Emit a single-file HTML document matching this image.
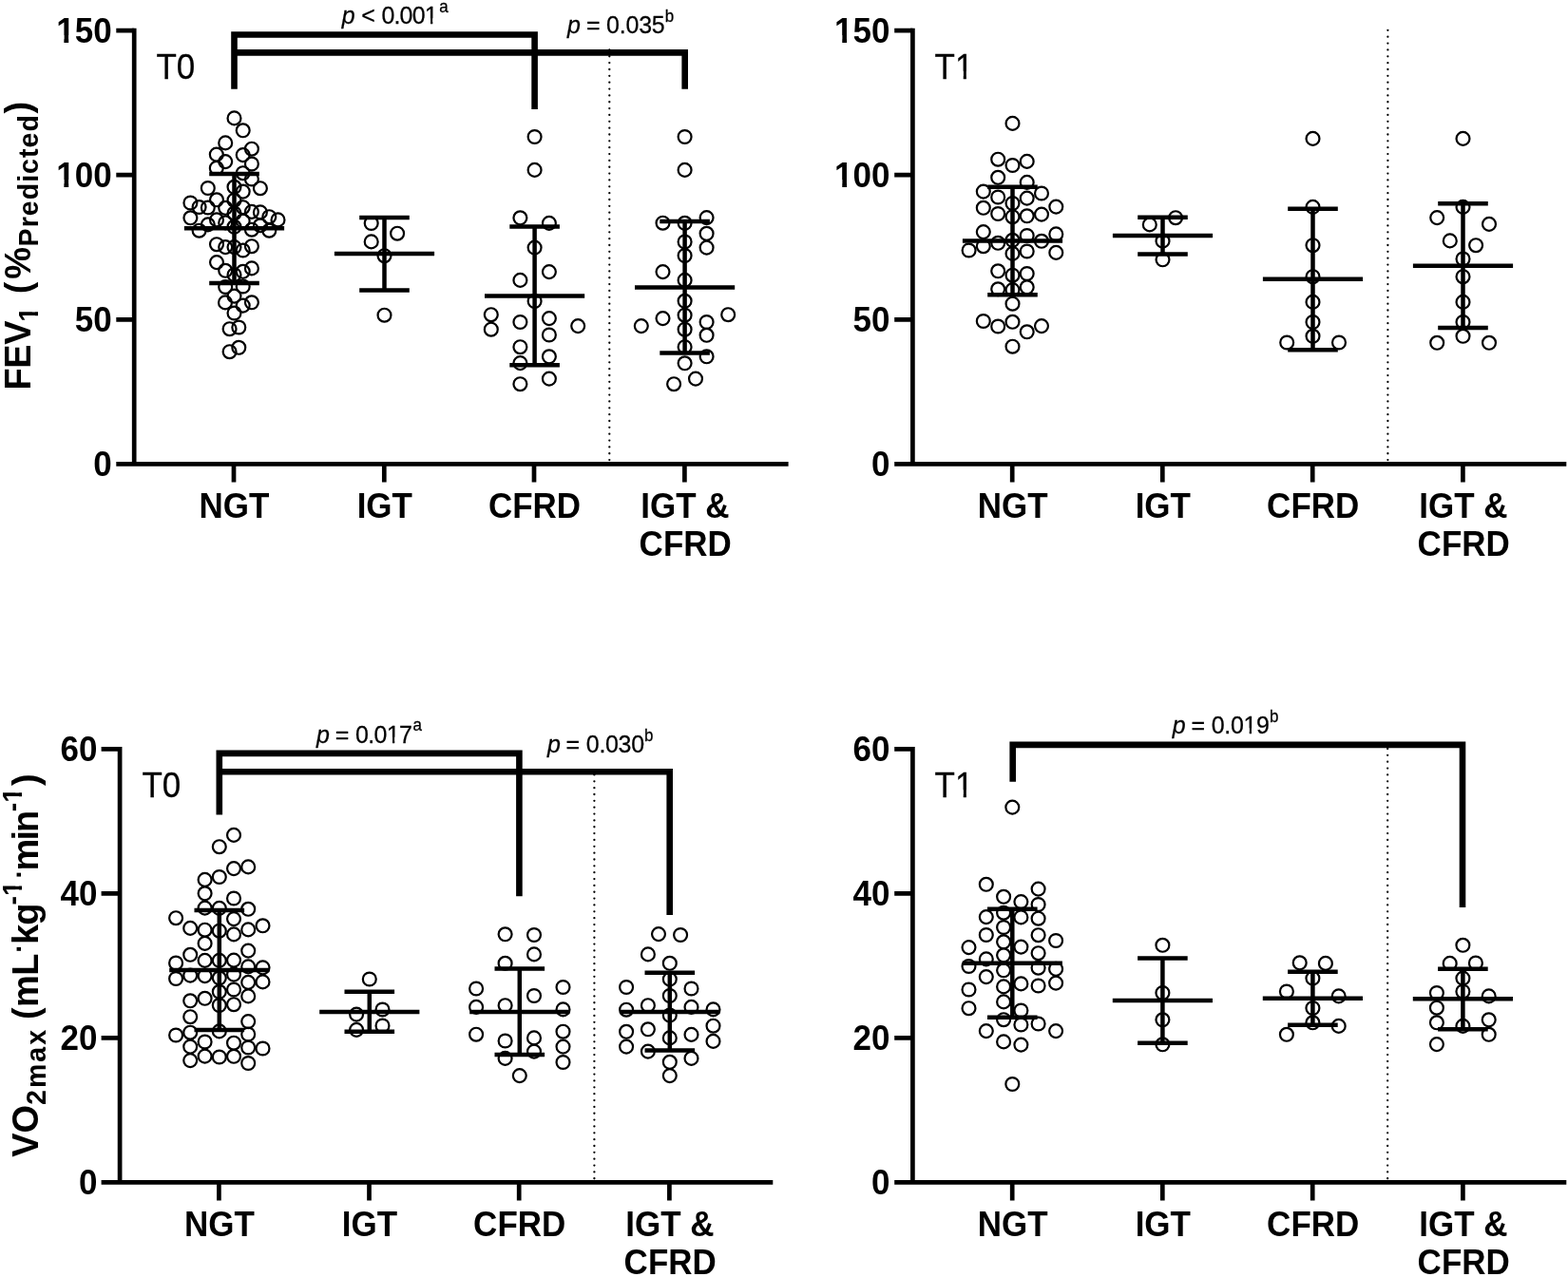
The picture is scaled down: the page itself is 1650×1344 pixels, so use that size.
<!DOCTYPE html>
<html lang="en">
<head>
<meta charset="utf-8">
<title>FEV1 and VO2max by glucose tolerance group</title>
<style>
html,body{margin:0;padding:0;background:#fff;}
body{width:1650px;height:1344px;overflow:hidden;}
svg{display:block;}
</style>
</head>
<body>
<svg width="1650" height="1344" viewBox="0 0 1650 1344" role="img" aria-label="FEV1 and VO2max at T0 and T1 by glucose tolerance group">
<defs><clipPath id="k0" clipPathUnits="userSpaceOnUse"><path clip-rule="evenodd" d="M-4000-4000H4000V4000H-4000ZM-59.08 -7.70H-50.23V2.10H-59.08ZM-45.40 -7.70H-38.08V2.10H-45.40Z"/></clipPath><clipPath id="k1" clipPathUnits="userSpaceOnUse"><path clip-rule="evenodd" d="M-4000-4000H4000V4000H-4000ZM-59.08 -7.70H-50.23V2.10H-59.08ZM-45.40 -7.70H-38.08V2.10H-45.40Z"/></clipPath><clipPath id="k4" clipPathUnits="userSpaceOnUse"><path clip-rule="evenodd" d="M-4000-4000H4000V4000H-4000ZM-59.08 -7.70H-50.23V2.10H-59.08ZM-45.40 -7.70H-38.08V2.10H-45.40Z"/></clipPath><clipPath id="k5" clipPathUnits="userSpaceOnUse"><path clip-rule="evenodd" d="M-4000-4000H4000V4000H-4000ZM-59.08 -7.70H-50.23V2.10H-59.08ZM-45.40 -7.70H-38.08V2.10H-45.40Z"/></clipPath><clipPath id="k37" clipPathUnits="userSpaceOnUse"><path clip-rule="evenodd" d="M-4000-4000H4000V4000H-4000ZM20.66 -7.70H30.15V2.10H20.66ZM33.26 -7.70H41.66V2.10H33.26Z"/></clipPath><clipPath id="k39" clipPathUnits="userSpaceOnUse"><path clip-rule="evenodd" d="M-4000-4000H4000V4000H-4000ZM20.66 -7.70H30.15V2.10H20.66ZM33.26 -7.70H41.66V2.10H33.26Z"/></clipPath><clipPath id="k40" clipPathUnits="userSpaceOnUse"><path clip-rule="evenodd" d="M-4000-4000H4000V4000H-4000ZM86.97 -5.50H93.75V1.50H86.97ZM95.97 -5.50H101.97V1.50H95.97Z"/></clipPath><clipPath id="k42" clipPathUnits="userSpaceOnUse"><path clip-rule="evenodd" d="M-4000-4000H4000V4000H-4000ZM73.74 -5.50H80.51V1.50H73.74ZM82.74 -5.50H88.74V1.50H82.74Z"/></clipPath><clipPath id="k44" clipPathUnits="userSpaceOnUse"><path clip-rule="evenodd" d="M-4000-4000H4000V4000H-4000ZM74.67 -5.50H81.45V1.50H74.67ZM83.67 -5.50H89.67V1.50H83.67Z"/></clipPath><clipPath id="k45" clipPathUnits="userSpaceOnUse"><path clip-rule="evenodd" d="M-4000-4000H4000V4000H-4000ZM1660.60 32.86H1667.81V40.84H1660.60ZM1671.74 32.86H1677.70V40.84H1671.74Z"/></clipPath><clipPath id="k46" clipPathUnits="userSpaceOnUse"><path clip-rule="evenodd" d="M-4000-4000H4000V4000H-4000ZM1056.41 15.77H1063.62V23.75H1056.41ZM1067.56 15.77H1073.51V23.75H1067.56ZM1154.66 15.77H1161.87V23.75H1154.66ZM1165.81 15.77H1171.76V23.75H1165.81Z"/></clipPath></defs>
<rect width="1650" height="1344" fill="#fff"/>
<g stroke="#000" stroke-width="2.3" stroke-linecap="round" stroke-dasharray="0 6.852" fill="none">
<path d="M641.30 52.42V484.30"/>
<path d="M1460.40 31.87V484.30"/>
<path d="M625.40 815.43V1240.45"/>
<path d="M1460.15 788.02V1240.45"/>
</g>
<g stroke="#000" stroke-width="4.7" fill="none" stroke-linecap="butt">
<path d="M141.2 29.8V488.4M122.3 488.4H829.6"/>
<path d="M122.3 32.1H141.2M122.3 184.2H141.2M122.3 336.3H141.2M246.0 488.4V507.4M404.3 488.4V507.4M562.0 488.4V507.4M720.4 488.4V507.4"/>
<path d="M960.4 29.8V488.4M941.2 488.4H1648.3"/>
<path d="M941.2 32.1H960.4M941.2 184.2H960.4M941.2 336.3H960.4M1065.2 488.4V507.4M1223.3 488.4V507.4M1381.2 488.4V507.4M1539.4 488.4V507.4"/>
<path d="M126.1 785.9V1244.4M106.6 1244.4H813.3"/>
<path d="M106.6 788.3H126.1M106.6 940.4H126.1M106.6 1092.4H126.1M230.4 1244.4V1263.4M388.5 1244.4V1263.4M546.2 1244.4V1263.4M704.4 1244.4V1263.4"/>
<path d="M960.4 785.9V1244.4M941.2 1244.4H1648.3"/>
<path d="M941.2 788.3H960.4M941.2 940.4H960.4M941.2 1092.4H960.4M1065.2 1244.4V1263.4M1223.3 1244.4V1263.4M1381.2 1244.4V1263.4M1539.4 1244.4V1263.4"/>
</g>
<g stroke="#000" stroke-width="6.6" fill="none" stroke-linejoin="miter" stroke-linecap="butt">
<path d="M246.5 93.8V36.5H562.6V114.9"/>
<path d="M246.5 55.4H720.7V93.8"/>
<path d="M230.8 857.4V792.9H546.4V943.2"/>
<path d="M230.8 812.3H704.7V963"/>
<path d="M1065.7 822.7V783.9H1539V955"/>
</g>
<g stroke="#000" stroke-width="4.5" fill="none">
<path d="M246.5 182.9V297.9M220.2 182.9H272.8M220.2 297.9H272.8M193.9 240.2H299.1"/>
<path d="M404.5 228.9V305.5M378.2 228.9H430.8M378.2 305.5H430.8M351.9 267.0H457.1"/>
<path d="M562.6 238.5V384.3M536.3 238.5H588.9M536.3 384.3H588.9M510.0 311.5H615.2"/>
<path d="M720.6 233.1V371.5M694.3 233.1H746.9M694.3 371.5H746.9M668.0 302.4H773.2"/>
<path d="M1065.5 196.8V310.3M1039.2 196.8H1091.8M1039.2 310.3H1091.8M1012.9 253.6H1118.1"/>
<path d="M1223.5 228.7V267.5M1197.2 228.7H1249.8M1197.2 267.5H1249.8M1170.9 247.9H1276.1"/>
<path d="M1381.5 219.7V368.3M1355.2 219.7H1407.8M1355.2 368.3H1407.8M1328.9 293.8H1434.1"/>
<path d="M1539.5 214.3V345.0M1513.2 214.3H1565.8M1513.2 345.0H1565.8M1486.9 279.8H1592.1"/>
<path d="M230.8 957.9V1084.1M204.5 957.9H257.1M204.5 1084.1H257.1M178.2 1021.1H283.4"/>
<path d="M388.8 1043.8V1085.8M362.5 1043.8H415.1M362.5 1085.8H415.1M336.2 1065.0H441.4"/>
<path d="M546.8 1019.4V1110.0M520.5 1019.4H573.1M520.5 1110.0H573.1M494.2 1064.9H599.4"/>
<path d="M704.8 1023.8V1105.4M678.5 1023.8H731.1M678.5 1105.4H731.1M652.2 1064.9H757.4"/>
<path d="M1065.3 956.7V1070.7M1039.0 956.7H1091.6M1039.0 1070.7H1091.6M1012.7 1013.8H1117.9"/>
<path d="M1223.4 1008.6V1097.8M1197.1 1008.6H1249.7M1197.1 1097.8H1249.7M1170.8 1053.0H1276.0"/>
<path d="M1381.4 1022.7V1078.7M1355.1 1022.7H1407.7M1355.1 1078.7H1407.7M1328.8 1050.8H1434.0"/>
<path d="M1539.4 1019.8V1083.3M1513.1 1019.8H1565.7M1513.1 1083.3H1565.7M1486.8 1051.3H1592.0"/>
</g>
<g stroke="#000" stroke-width="2.2" fill="none">
<circle cx="246.5" cy="124.4" r="6.95"/>
<circle cx="255.7" cy="137.3" r="6.95"/>
<circle cx="237.2" cy="150.4" r="6.95"/>
<circle cx="264.9" cy="156.7" r="6.95"/>
<circle cx="227.8" cy="162.6" r="6.95"/>
<circle cx="255.7" cy="163.1" r="6.95"/>
<circle cx="237.2" cy="170.1" r="6.95"/>
<circle cx="264.9" cy="172.5" r="6.95"/>
<circle cx="227.8" cy="176.9" r="6.95"/>
<circle cx="255.7" cy="182.2" r="6.95"/>
<circle cx="264.9" cy="188.5" r="6.95"/>
<circle cx="218.8" cy="198.0" r="6.95"/>
<circle cx="246.5" cy="196.8" r="6.95"/>
<circle cx="273.9" cy="198.2" r="6.95"/>
<circle cx="255.7" cy="201.6" r="6.95"/>
<circle cx="228.0" cy="210.3" r="6.95"/>
<circle cx="246.5" cy="210.7" r="6.95"/>
<circle cx="200.4" cy="213.5" r="6.95"/>
<circle cx="209.6" cy="218.0" r="6.95"/>
<circle cx="218.8" cy="218.5" r="6.95"/>
<circle cx="237.2" cy="218.8" r="6.95"/>
<circle cx="255.7" cy="218.2" r="6.95"/>
<circle cx="264.9" cy="222.9" r="6.95"/>
<circle cx="273.9" cy="223.4" r="6.95"/>
<circle cx="246.5" cy="224.5" r="6.95"/>
<circle cx="283.3" cy="228.2" r="6.95"/>
<circle cx="200.4" cy="229.3" r="6.95"/>
<circle cx="228.0" cy="231.4" r="6.95"/>
<circle cx="292.5" cy="231.4" r="6.95"/>
<circle cx="255.7" cy="232.5" r="6.95"/>
<circle cx="237.2" cy="234.4" r="6.95"/>
<circle cx="218.8" cy="236.4" r="6.95"/>
<circle cx="273.9" cy="237.3" r="6.95"/>
<circle cx="246.5" cy="238.8" r="6.95"/>
<circle cx="209.6" cy="242.7" r="6.95"/>
<circle cx="264.9" cy="241.7" r="6.95"/>
<circle cx="283.3" cy="242.7" r="6.95"/>
<circle cx="228.0" cy="257.2" r="6.95"/>
<circle cx="264.9" cy="259.2" r="6.95"/>
<circle cx="237.2" cy="260.1" r="6.95"/>
<circle cx="246.5" cy="260.1" r="6.95"/>
<circle cx="255.7" cy="263.5" r="6.95"/>
<circle cx="228.0" cy="276.1" r="6.95"/>
<circle cx="264.9" cy="282.4" r="6.95"/>
<circle cx="237.2" cy="284.8" r="6.95"/>
<circle cx="255.7" cy="285.8" r="6.95"/>
<circle cx="246.5" cy="289.2" r="6.95"/>
<circle cx="237.2" cy="302.0" r="6.95"/>
<circle cx="255.7" cy="301.5" r="6.95"/>
<circle cx="246.5" cy="311.6" r="6.95"/>
<circle cx="237.0" cy="318.4" r="6.95"/>
<circle cx="264.9" cy="318.3" r="6.95"/>
<circle cx="255.7" cy="321.6" r="6.95"/>
<circle cx="246.5" cy="329.5" r="6.95"/>
<circle cx="241.6" cy="346.2" r="6.95"/>
<circle cx="251.3" cy="344.5" r="6.95"/>
<circle cx="251.3" cy="365.8" r="6.95"/>
<circle cx="241.6" cy="370.2" r="6.95"/>
<circle cx="390.7" cy="235.0" r="6.95"/>
<circle cx="418.1" cy="245.7" r="6.95"/>
<circle cx="390.7" cy="254.4" r="6.95"/>
<circle cx="404.5" cy="269.2" r="6.95"/>
<circle cx="404.5" cy="331.7" r="6.95"/>
<circle cx="562.6" cy="144.0" r="6.95"/>
<circle cx="562.6" cy="178.9" r="6.95"/>
<circle cx="547.4" cy="229.3" r="6.95"/>
<circle cx="577.9" cy="234.9" r="6.95"/>
<circle cx="562.6" cy="260.6" r="6.95"/>
<circle cx="577.9" cy="286.1" r="6.95"/>
<circle cx="547.4" cy="294.9" r="6.95"/>
<circle cx="562.6" cy="317.0" r="6.95"/>
<circle cx="516.8" cy="331.2" r="6.95"/>
<circle cx="577.9" cy="335.1" r="6.95"/>
<circle cx="547.4" cy="339.0" r="6.95"/>
<circle cx="608.2" cy="343.1" r="6.95"/>
<circle cx="516.8" cy="346.7" r="6.95"/>
<circle cx="577.9" cy="352.5" r="6.95"/>
<circle cx="547.4" cy="365.2" r="6.95"/>
<circle cx="577.9" cy="375.3" r="6.95"/>
<circle cx="547.4" cy="382.1" r="6.95"/>
<circle cx="577.9" cy="398.6" r="6.95"/>
<circle cx="547.4" cy="404.2" r="6.95"/>
<circle cx="720.6" cy="144.0" r="6.95"/>
<circle cx="720.6" cy="178.9" r="6.95"/>
<circle cx="743.6" cy="229.1" r="6.95"/>
<circle cx="697.5" cy="234.7" r="6.95"/>
<circle cx="720.6" cy="234.8" r="6.95"/>
<circle cx="743.6" cy="245.8" r="6.95"/>
<circle cx="720.6" cy="254.5" r="6.95"/>
<circle cx="743.6" cy="260.6" r="6.95"/>
<circle cx="720.6" cy="269.0" r="6.95"/>
<circle cx="697.5" cy="286.1" r="6.95"/>
<circle cx="720.6" cy="294.9" r="6.95"/>
<circle cx="720.6" cy="316.8" r="6.95"/>
<circle cx="766.2" cy="331.2" r="6.95"/>
<circle cx="720.6" cy="331.7" r="6.95"/>
<circle cx="697.5" cy="335.1" r="6.95"/>
<circle cx="743.6" cy="339.0" r="6.95"/>
<circle cx="674.8" cy="343.1" r="6.95"/>
<circle cx="720.6" cy="346.7" r="6.95"/>
<circle cx="743.6" cy="352.8" r="6.95"/>
<circle cx="720.6" cy="365.2" r="6.95"/>
<circle cx="743.6" cy="375.3" r="6.95"/>
<circle cx="720.6" cy="382.3" r="6.95"/>
<circle cx="732.0" cy="398.6" r="6.95"/>
<circle cx="709.1" cy="404.2" r="6.95"/>
<circle cx="1065.5" cy="129.9" r="6.95"/>
<circle cx="1050.2" cy="167.7" r="6.95"/>
<circle cx="1080.7" cy="169.9" r="6.95"/>
<circle cx="1065.5" cy="174.0" r="6.95"/>
<circle cx="1050.2" cy="186.8" r="6.95"/>
<circle cx="1080.7" cy="191.9" r="6.95"/>
<circle cx="1034.8" cy="201.6" r="6.95"/>
<circle cx="1096.0" cy="203.5" r="6.95"/>
<circle cx="1050.2" cy="207.5" r="6.95"/>
<circle cx="1080.7" cy="208.6" r="6.95"/>
<circle cx="1065.5" cy="214.0" r="6.95"/>
<circle cx="1111.3" cy="217.6" r="6.95"/>
<circle cx="1034.8" cy="218.8" r="6.95"/>
<circle cx="1050.2" cy="225.0" r="6.95"/>
<circle cx="1096.0" cy="225.6" r="6.95"/>
<circle cx="1080.7" cy="227.3" r="6.95"/>
<circle cx="1065.5" cy="228.2" r="6.95"/>
<circle cx="1034.8" cy="244.1" r="6.95"/>
<circle cx="1111.3" cy="246.4" r="6.95"/>
<circle cx="1080.7" cy="248.0" r="6.95"/>
<circle cx="1065.5" cy="252.8" r="6.95"/>
<circle cx="1096.0" cy="253.8" r="6.95"/>
<circle cx="1050.2" cy="255.8" r="6.95"/>
<circle cx="1034.8" cy="259.2" r="6.95"/>
<circle cx="1019.6" cy="263.5" r="6.95"/>
<circle cx="1080.7" cy="264.5" r="6.95"/>
<circle cx="1111.3" cy="265.9" r="6.95"/>
<circle cx="1065.5" cy="266.9" r="6.95"/>
<circle cx="1050.2" cy="285.3" r="6.95"/>
<circle cx="1080.7" cy="288.0" r="6.95"/>
<circle cx="1065.5" cy="289.7" r="6.95"/>
<circle cx="1080.7" cy="302.3" r="6.95"/>
<circle cx="1050.2" cy="304.3" r="6.95"/>
<circle cx="1065.5" cy="305.1" r="6.95"/>
<circle cx="1065.5" cy="319.7" r="6.95"/>
<circle cx="1034.8" cy="338.0" r="6.95"/>
<circle cx="1065.5" cy="338.8" r="6.95"/>
<circle cx="1096.0" cy="343.1" r="6.95"/>
<circle cx="1050.2" cy="343.5" r="6.95"/>
<circle cx="1080.7" cy="349.3" r="6.95"/>
<circle cx="1065.5" cy="364.7" r="6.95"/>
<circle cx="1237.1" cy="229.2" r="6.95"/>
<circle cx="1209.8" cy="236.4" r="6.95"/>
<circle cx="1223.5" cy="253.6" r="6.95"/>
<circle cx="1223.5" cy="273.3" r="6.95"/>
<circle cx="1381.5" cy="145.9" r="6.95"/>
<circle cx="1381.5" cy="217.9" r="6.95"/>
<circle cx="1381.5" cy="258.2" r="6.95"/>
<circle cx="1381.5" cy="291.2" r="6.95"/>
<circle cx="1381.5" cy="317.9" r="6.95"/>
<circle cx="1381.5" cy="339.0" r="6.95"/>
<circle cx="1381.5" cy="353.8" r="6.95"/>
<circle cx="1354.2" cy="360.5" r="6.95"/>
<circle cx="1409.0" cy="360.5" r="6.95"/>
<circle cx="1539.5" cy="145.9" r="6.95"/>
<circle cx="1539.5" cy="217.9" r="6.95"/>
<circle cx="1512.2" cy="229.1" r="6.95"/>
<circle cx="1567.0" cy="235.9" r="6.95"/>
<circle cx="1525.8" cy="253.4" r="6.95"/>
<circle cx="1553.1" cy="258.2" r="6.95"/>
<circle cx="1539.5" cy="272.5" r="6.95"/>
<circle cx="1539.5" cy="291.2" r="6.95"/>
<circle cx="1539.5" cy="317.9" r="6.95"/>
<circle cx="1539.5" cy="339.0" r="6.95"/>
<circle cx="1539.5" cy="353.8" r="6.95"/>
<circle cx="1512.2" cy="360.8" r="6.95"/>
<circle cx="1567.0" cy="360.8" r="6.95"/>
<circle cx="246.0" cy="878.9" r="6.95"/>
<circle cx="230.8" cy="891.2" r="6.95"/>
<circle cx="261.2" cy="912.4" r="6.95"/>
<circle cx="246.0" cy="914.1" r="6.95"/>
<circle cx="230.8" cy="923.0" r="6.95"/>
<circle cx="215.6" cy="925.9" r="6.95"/>
<circle cx="215.6" cy="940.3" r="6.95"/>
<circle cx="246.0" cy="945.5" r="6.95"/>
<circle cx="215.6" cy="955.6" r="6.95"/>
<circle cx="230.8" cy="955.9" r="6.95"/>
<circle cx="261.2" cy="956.8" r="6.95"/>
<circle cx="185.1" cy="966.2" r="6.95"/>
<circle cx="246.0" cy="967.1" r="6.95"/>
<circle cx="276.5" cy="974.3" r="6.95"/>
<circle cx="200.2" cy="976.9" r="6.95"/>
<circle cx="261.2" cy="978.4" r="6.95"/>
<circle cx="215.6" cy="978.7" r="6.95"/>
<circle cx="230.8" cy="979.7" r="6.95"/>
<circle cx="246.0" cy="983.4" r="6.95"/>
<circle cx="215.6" cy="992.9" r="6.95"/>
<circle cx="261.2" cy="1000.6" r="6.95"/>
<circle cx="200.2" cy="1004.8" r="6.95"/>
<circle cx="215.6" cy="1010.9" r="6.95"/>
<circle cx="230.8" cy="1010.9" r="6.95"/>
<circle cx="246.0" cy="1010.6" r="6.95"/>
<circle cx="185.1" cy="1013.5" r="6.95"/>
<circle cx="261.2" cy="1017.4" r="6.95"/>
<circle cx="276.5" cy="1018.4" r="6.95"/>
<circle cx="200.2" cy="1026.6" r="6.95"/>
<circle cx="215.6" cy="1027.1" r="6.95"/>
<circle cx="246.0" cy="1025.6" r="6.95"/>
<circle cx="230.8" cy="1029.3" r="6.95"/>
<circle cx="185.1" cy="1030.0" r="6.95"/>
<circle cx="276.5" cy="1033.4" r="6.95"/>
<circle cx="261.2" cy="1033.9" r="6.95"/>
<circle cx="246.0" cy="1041.5" r="6.95"/>
<circle cx="230.8" cy="1043.8" r="6.95"/>
<circle cx="261.2" cy="1048.4" r="6.95"/>
<circle cx="215.6" cy="1050.8" r="6.95"/>
<circle cx="200.2" cy="1053.3" r="6.95"/>
<circle cx="246.0" cy="1057.2" r="6.95"/>
<circle cx="230.8" cy="1058.0" r="6.95"/>
<circle cx="200.2" cy="1070.2" r="6.95"/>
<circle cx="261.2" cy="1075.1" r="6.95"/>
<circle cx="230.8" cy="1085.4" r="6.95"/>
<circle cx="200.2" cy="1086.7" r="6.95"/>
<circle cx="261.2" cy="1088.5" r="6.95"/>
<circle cx="185.1" cy="1089.5" r="6.95"/>
<circle cx="215.6" cy="1096.5" r="6.95"/>
<circle cx="246.0" cy="1097.7" r="6.95"/>
<circle cx="200.2" cy="1101.6" r="6.95"/>
<circle cx="261.2" cy="1102.5" r="6.95"/>
<circle cx="276.5" cy="1103.5" r="6.95"/>
<circle cx="215.6" cy="1111.6" r="6.95"/>
<circle cx="246.0" cy="1111.8" r="6.95"/>
<circle cx="230.8" cy="1112.5" r="6.95"/>
<circle cx="200.2" cy="1116.1" r="6.95"/>
<circle cx="261.2" cy="1119.0" r="6.95"/>
<circle cx="388.8" cy="1030.5" r="6.95"/>
<circle cx="402.5" cy="1062.5" r="6.95"/>
<circle cx="375.1" cy="1067.6" r="6.95"/>
<circle cx="402.5" cy="1079.5" r="6.95"/>
<circle cx="375.1" cy="1083.9" r="6.95"/>
<circle cx="531.6" cy="983.3" r="6.95"/>
<circle cx="562.0" cy="984.0" r="6.95"/>
<circle cx="562.0" cy="1004.4" r="6.95"/>
<circle cx="531.6" cy="1013.8" r="6.95"/>
<circle cx="592.5" cy="1039.0" r="6.95"/>
<circle cx="501.1" cy="1040.5" r="6.95"/>
<circle cx="562.0" cy="1048.0" r="6.95"/>
<circle cx="531.6" cy="1058.2" r="6.95"/>
<circle cx="501.1" cy="1059.9" r="6.95"/>
<circle cx="592.5" cy="1062.4" r="6.95"/>
<circle cx="592.5" cy="1085.7" r="6.95"/>
<circle cx="501.1" cy="1088.7" r="6.95"/>
<circle cx="562.0" cy="1092.4" r="6.95"/>
<circle cx="531.6" cy="1095.5" r="6.95"/>
<circle cx="592.5" cy="1101.6" r="6.95"/>
<circle cx="562.0" cy="1106.6" r="6.95"/>
<circle cx="531.6" cy="1113.9" r="6.95"/>
<circle cx="592.5" cy="1118.0" r="6.95"/>
<circle cx="546.8" cy="1132.1" r="6.95"/>
<circle cx="693.0" cy="983.1" r="6.95"/>
<circle cx="716.1" cy="984.0" r="6.95"/>
<circle cx="681.9" cy="1004.4" r="6.95"/>
<circle cx="704.8" cy="1013.8" r="6.95"/>
<circle cx="704.8" cy="1030.6" r="6.95"/>
<circle cx="659.1" cy="1039.0" r="6.95"/>
<circle cx="727.5" cy="1040.5" r="6.95"/>
<circle cx="704.8" cy="1048.0" r="6.95"/>
<circle cx="681.9" cy="1058.2" r="6.95"/>
<circle cx="727.5" cy="1059.9" r="6.95"/>
<circle cx="659.1" cy="1062.7" r="6.95"/>
<circle cx="750.5" cy="1062.4" r="6.95"/>
<circle cx="704.8" cy="1068.5" r="6.95"/>
<circle cx="750.5" cy="1079.7" r="6.95"/>
<circle cx="681.9" cy="1083.3" r="6.95"/>
<circle cx="659.1" cy="1085.8" r="6.95"/>
<circle cx="727.5" cy="1088.9" r="6.95"/>
<circle cx="704.8" cy="1092.4" r="6.95"/>
<circle cx="750.5" cy="1095.9" r="6.95"/>
<circle cx="659.1" cy="1101.6" r="6.95"/>
<circle cx="681.9" cy="1106.6" r="6.95"/>
<circle cx="727.5" cy="1113.9" r="6.95"/>
<circle cx="704.8" cy="1117.8" r="6.95"/>
<circle cx="704.8" cy="1132.1" r="6.95"/>
<circle cx="1065.3" cy="849.6" r="6.95"/>
<circle cx="1037.8" cy="930.8" r="6.95"/>
<circle cx="1092.6" cy="935.6" r="6.95"/>
<circle cx="1056.1" cy="943.8" r="6.95"/>
<circle cx="1074.4" cy="949.1" r="6.95"/>
<circle cx="1092.6" cy="952.0" r="6.95"/>
<circle cx="1056.1" cy="960.7" r="6.95"/>
<circle cx="1037.8" cy="965.1" r="6.95"/>
<circle cx="1074.4" cy="965.4" r="6.95"/>
<circle cx="1092.6" cy="966.7" r="6.95"/>
<circle cx="1056.1" cy="976.0" r="6.95"/>
<circle cx="1037.8" cy="984.0" r="6.95"/>
<circle cx="1092.6" cy="984.2" r="6.95"/>
<circle cx="1111.1" cy="990.0" r="6.95"/>
<circle cx="1056.1" cy="991.3" r="6.95"/>
<circle cx="1074.4" cy="996.6" r="6.95"/>
<circle cx="1019.5" cy="997.1" r="6.95"/>
<circle cx="1092.6" cy="1003.2" r="6.95"/>
<circle cx="1056.1" cy="1005.3" r="6.95"/>
<circle cx="1037.8" cy="1009.4" r="6.95"/>
<circle cx="1019.5" cy="1017.0" r="6.95"/>
<circle cx="1092.6" cy="1018.7" r="6.95"/>
<circle cx="1111.1" cy="1019.9" r="6.95"/>
<circle cx="1056.1" cy="1021.3" r="6.95"/>
<circle cx="1037.8" cy="1028.1" r="6.95"/>
<circle cx="1111.1" cy="1034.6" r="6.95"/>
<circle cx="1074.4" cy="1035.4" r="6.95"/>
<circle cx="1092.6" cy="1037.5" r="6.95"/>
<circle cx="1056.1" cy="1038.4" r="6.95"/>
<circle cx="1019.5" cy="1041.5" r="6.95"/>
<circle cx="1056.1" cy="1054.4" r="6.95"/>
<circle cx="1019.5" cy="1061.2" r="6.95"/>
<circle cx="1074.4" cy="1063.5" r="6.95"/>
<circle cx="1056.1" cy="1073.2" r="6.95"/>
<circle cx="1092.6" cy="1077.5" r="6.95"/>
<circle cx="1074.4" cy="1078.5" r="6.95"/>
<circle cx="1037.8" cy="1085.1" r="6.95"/>
<circle cx="1111.1" cy="1085.1" r="6.95"/>
<circle cx="1056.1" cy="1096.4" r="6.95"/>
<circle cx="1074.4" cy="1099.6" r="6.95"/>
<circle cx="1065.3" cy="1141.0" r="6.95"/>
<circle cx="1223.4" cy="994.8" r="6.95"/>
<circle cx="1223.4" cy="1045.0" r="6.95"/>
<circle cx="1223.4" cy="1073.3" r="6.95"/>
<circle cx="1223.4" cy="1099.3" r="6.95"/>
<circle cx="1367.7" cy="1013.3" r="6.95"/>
<circle cx="1394.9" cy="1013.9" r="6.95"/>
<circle cx="1381.4" cy="1029.6" r="6.95"/>
<circle cx="1353.9" cy="1043.5" r="6.95"/>
<circle cx="1408.7" cy="1048.4" r="6.95"/>
<circle cx="1381.4" cy="1061.0" r="6.95"/>
<circle cx="1381.4" cy="1076.3" r="6.95"/>
<circle cx="1408.7" cy="1079.9" r="6.95"/>
<circle cx="1353.9" cy="1088.8" r="6.95"/>
<circle cx="1539.4" cy="994.8" r="6.95"/>
<circle cx="1525.7" cy="1013.9" r="6.95"/>
<circle cx="1552.9" cy="1013.5" r="6.95"/>
<circle cx="1539.4" cy="1029.6" r="6.95"/>
<circle cx="1539.4" cy="1043.5" r="6.95"/>
<circle cx="1511.9" cy="1045.0" r="6.95"/>
<circle cx="1566.7" cy="1048.4" r="6.95"/>
<circle cx="1511.9" cy="1060.7" r="6.95"/>
<circle cx="1566.7" cy="1073.3" r="6.95"/>
<circle cx="1511.9" cy="1076.3" r="6.95"/>
<circle cx="1539.4" cy="1079.9" r="6.95"/>
<circle cx="1566.7" cy="1088.8" r="6.95"/>
<circle cx="1511.9" cy="1099.1" r="6.95"/>
</g>
<g font-family="'Liberation Sans', Arial, Helvetica, sans-serif" fill="#000">
<text clip-path="url(#k0)" transform="translate(117.60 44.85) scale(1 1.03)" font-size="35" font-weight="bold" text-anchor="end">150</text>
<text clip-path="url(#k1)" transform="translate(117.60 196.95) scale(1 1.03)" font-size="35" font-weight="bold" text-anchor="end">100</text>
<text transform="translate(117.60 349.05) scale(1 1.03)" font-size="35" font-weight="bold" text-anchor="end">50</text>
<text transform="translate(117.60 501.15) scale(1 1.03)" font-size="35" font-weight="bold" text-anchor="end">0</text>
<text clip-path="url(#k4)" transform="translate(936.50 44.85) scale(1 1.03)" font-size="35" font-weight="bold" text-anchor="end">150</text>
<text clip-path="url(#k5)" transform="translate(936.50 196.95) scale(1 1.03)" font-size="35" font-weight="bold" text-anchor="end">100</text>
<text transform="translate(936.50 349.05) scale(1 1.03)" font-size="35" font-weight="bold" text-anchor="end">50</text>
<text transform="translate(936.50 501.15) scale(1 1.03)" font-size="35" font-weight="bold" text-anchor="end">0</text>
<text transform="translate(102.40 801.05) scale(1 1.03)" font-size="35" font-weight="bold" text-anchor="end">60</text>
<text transform="translate(102.40 953.15) scale(1 1.03)" font-size="35" font-weight="bold" text-anchor="end">40</text>
<text transform="translate(102.40 1105.15) scale(1 1.03)" font-size="35" font-weight="bold" text-anchor="end">20</text>
<text transform="translate(102.40 1257.15) scale(1 1.03)" font-size="35" font-weight="bold" text-anchor="end">0</text>
<text transform="translate(936.50 801.05) scale(1 1.03)" font-size="35" font-weight="bold" text-anchor="end">60</text>
<text transform="translate(936.50 953.15) scale(1 1.03)" font-size="35" font-weight="bold" text-anchor="end">40</text>
<text transform="translate(936.50 1105.15) scale(1 1.03)" font-size="35" font-weight="bold" text-anchor="end">20</text>
<text transform="translate(936.50 1257.15) scale(1 1.03)" font-size="35" font-weight="bold" text-anchor="end">0</text>
<text transform="translate(246.50 544.60) scale(1 1.03)" font-size="35" font-weight="bold" text-anchor="middle">NGT</text>
<text transform="translate(404.80 544.60) scale(1 1.03)" font-size="35" font-weight="bold" text-anchor="middle">IGT</text>
<text transform="translate(562.50 544.60) scale(1 1.03)" font-size="35" font-weight="bold" text-anchor="middle">CFRD</text>
<text transform="translate(720.90 544.60) scale(1 1.03)" font-size="35" font-weight="bold" text-anchor="middle">IGT &amp;</text>
<text transform="translate(721.20 584.60) scale(1 1.03)" font-size="35" font-weight="bold" text-anchor="middle">CFRD</text>
<text transform="translate(1065.70 544.60) scale(1 1.03)" font-size="35" font-weight="bold" text-anchor="middle">NGT</text>
<text transform="translate(1223.80 544.60) scale(1 1.03)" font-size="35" font-weight="bold" text-anchor="middle">IGT</text>
<text transform="translate(1381.70 544.60) scale(1 1.03)" font-size="35" font-weight="bold" text-anchor="middle">CFRD</text>
<text transform="translate(1539.90 544.60) scale(1 1.03)" font-size="35" font-weight="bold" text-anchor="middle">IGT &amp;</text>
<text transform="translate(1540.20 584.60) scale(1 1.03)" font-size="35" font-weight="bold" text-anchor="middle">CFRD</text>
<text transform="translate(230.90 1300.50) scale(1 1.03)" font-size="35" font-weight="bold" text-anchor="middle">NGT</text>
<text transform="translate(389.00 1300.50) scale(1 1.03)" font-size="35" font-weight="bold" text-anchor="middle">IGT</text>
<text transform="translate(546.70 1300.50) scale(1 1.03)" font-size="35" font-weight="bold" text-anchor="middle">CFRD</text>
<text transform="translate(704.90 1300.50) scale(1 1.03)" font-size="35" font-weight="bold" text-anchor="middle">IGT &amp;</text>
<text transform="translate(705.20 1340.50) scale(1 1.03)" font-size="35" font-weight="bold" text-anchor="middle">CFRD</text>
<text transform="translate(1065.70 1300.50) scale(1 1.03)" font-size="35" font-weight="bold" text-anchor="middle">NGT</text>
<text transform="translate(1223.80 1300.50) scale(1 1.03)" font-size="35" font-weight="bold" text-anchor="middle">IGT</text>
<text transform="translate(1381.70 1300.50) scale(1 1.03)" font-size="35" font-weight="bold" text-anchor="middle">CFRD</text>
<text transform="translate(1539.90 1300.50) scale(1 1.03)" font-size="35" font-weight="bold" text-anchor="middle">IGT &amp;</text>
<text transform="translate(1540.20 1340.50) scale(1 1.03)" font-size="35" font-weight="bold" text-anchor="middle">CFRD</text>
<text transform="translate(164.50 82.90) scale(1 1.03)" font-size="35" stroke="#000" stroke-width="0.25">T0</text>
<text clip-path="url(#k37)" transform="translate(983.60 82.70) scale(1 1.03)" font-size="35" stroke="#000" stroke-width="0.25">T1</text>
<text transform="translate(149.50 839.30) scale(1 1.03)" font-size="35" stroke="#000" stroke-width="0.25">T0</text>
<text clip-path="url(#k39)" transform="translate(983.60 839.30) scale(1 1.03)" font-size="35" stroke="#000" stroke-width="0.25">T1</text>
<text clip-path="url(#k40)" transform="translate(359.30 24.90) scale(1 1.045)" font-size="25" stroke="#000" stroke-width="0.25"><tspan x="0.50" font-style="italic">p </tspan><tspan x="20.95">&lt; </tspan><tspan x="42.10" letter-spacing="-0.81">0.001</tspan><tspan x="103.05" dy="-11.7" font-size="17">a</tspan></text>
<text transform="translate(596.50 35.20) scale(1 1.045)" font-size="25" stroke="#000" stroke-width="0.25"><tspan x="0.50" font-style="italic">p </tspan><tspan x="20.45">= </tspan><tspan x="41.55" letter-spacing="-0.21">0.035</tspan><tspan x="103.30" dy="-11.7" font-size="17">b</tspan></text>
<text clip-path="url(#k42)" transform="translate(332.50 781.60) scale(1 1.045)" font-size="25" stroke="#000" stroke-width="0.25"><tspan x="0.50" font-style="italic">p </tspan><tspan x="20.25">= </tspan><tspan x="41.50" letter-spacing="-0.66">0.017</tspan><tspan x="102.05" dy="-11.7" font-size="17">a</tspan></text>
<text transform="translate(575.50 792.30) scale(1 1.045)" font-size="25" stroke="#000" stroke-width="0.25"><tspan x="0.50" font-style="italic">p </tspan><tspan x="20.05">= </tspan><tspan x="41.30" letter-spacing="-0.30">0.030</tspan><tspan x="102.60" dy="-11.7" font-size="17">b</tspan></text>
<text clip-path="url(#k44)" transform="translate(1233.30 772.00) scale(1 1.045)" font-size="25" stroke="#000" stroke-width="0.25"><tspan x="0.50" font-style="italic">p </tspan><tspan x="20.25">= </tspan><tspan x="41.50" letter-spacing="-0.35">0.019</tspan><tspan x="102.60" dy="-11.7" font-size="17">b</tspan></text>
<text clip-path="url(#k45)" transform="translate(0 2000.0) rotate(-90) scale(1 1.03)" font-weight="bold"><tspan x="1589.50" y="30.97" font-size="38" letter-spacing="-0.35">FEV</tspan><tspan x="1661.17" y="39.13" font-size="28.5">1 </tspan><tspan x="1690.75" y="30.97" font-size="38">(</tspan><tspan x="1706.22" y="30.97" font-size="38">%</tspan><tspan x="1740.60" y="39.13" font-size="28.5" letter-spacing="1.05">Predicted</tspan><tspan x="1880.40" y="30.97" font-size="38">)</tspan></text>
<text clip-path="url(#k46)" transform="translate(0 2000.0) rotate(-90) scale(1 1.03)" font-weight="bold"><tspan x="782.35" y="38.83" font-size="38" letter-spacing="-0.20">VO</tspan><tspan x="837.00" y="46.60" font-size="28.5" letter-spacing="2.07">2max </tspan><tspan x="927.10" y="38.83" font-size="38">(</tspan><tspan x="940.00" y="38.83" font-size="38" letter-spacing="-0.45">mL</tspan><tspan x="997.17" y="29.13" font-size="28">·</tspan><tspan x="1005.95" y="38.83" font-size="38" letter-spacing="-0.70">kg</tspan><tspan x="1047.50" y="22.04" font-size="28.5">-1</tspan><tspan x="1075.53" y="29.13" font-size="28">·</tspan><tspan x="1083.60" y="38.83" font-size="38" letter-spacing="-1.98">min</tspan><tspan x="1145.75" y="22.04" font-size="28.5">-1</tspan><tspan x="1173.05" y="38.83" font-size="38">)</tspan></text>
</g>
</svg>
</body>
</html>
